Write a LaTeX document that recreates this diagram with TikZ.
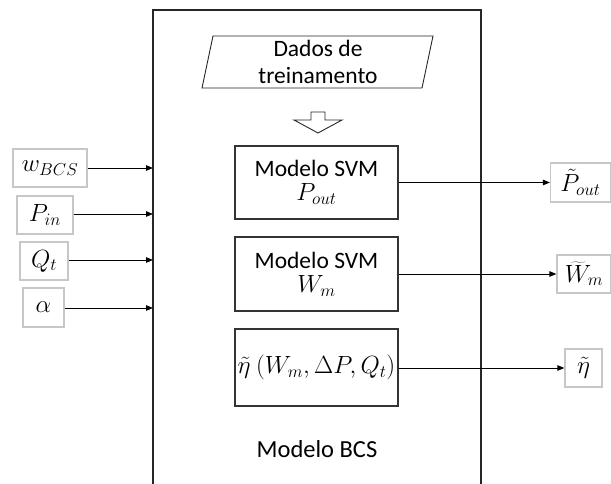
\documentclass[tikz,border=0pt]{standalone}
\usepackage{fontspec}
\setmainfont{Carlito}
\usetikzlibrary{arrows.meta}
\newcommand{\mbig}[2][27]{{\fontsize{#1}{30}\selectfont$#2$}}
\begin{document}
\begin{tikzpicture}[x=1pt,y=-1pt,
  frame/.style={draw=black!85, line width=1.1pt},
  model/.style={draw=black!80, line width=1.1pt, inner sep=0pt, align=center, font=\fontsize{23.5}{27}\selectfont},
  iobox/.style={draw=black!22, line width=1.2pt, inner sep=0pt},
  conn/.style={draw=black, line width=0.9pt, -{Triangle[length=7pt,width=5.5pt]}}]
\useasboundingbox (0,0) rectangle (611,484);
% outer frame (open at the bottom)
\draw[frame] (153,484) -- (153,10) -- (481,10) -- (481,484);
% training data parallelogram
\draw[frame, line width=0.9pt] (213,36) -- (433,36) -- (422,88) -- (202,88) -- cycle;
\node[align=center, font=\fontsize{23.5}{27}\selectfont] (data) at (318,62) {Dados de\\treinamento};
% hollow arrow
\draw[black!85, line width=0.9pt, fill=white] (311,112) -- (325,112) -- (325,120) -- (342,120) -- (318,133) -- (294,120) -- (311,120) -- cycle;
% model boxes
\node[model, minimum width=163pt, minimum height=73pt] (m1) at (316.5,182.5) {Modelo SVM\\[-3pt]\mbig{P_{out}}};
\node[model, minimum width=163pt, minimum height=74pt] (m2) at (316.5,274) {Modelo SVM\\[-3pt]\mbig{W_m}};
\node[model, minimum width=163pt, minimum height=77pt] (m3) at (316.5,367.5) {\mbig[24]{\tilde{\eta}\ (W_m, \Delta P, Q_t)}};
\node[font=\fontsize{24.5}{28}\selectfont] (bcs) at (317,449) {Modelo BCS};
% inputs
\node[iobox, minimum width=74pt, minimum height=38pt] (w) at (50,168) {\mbig[23]{w_{BCS}}};
\node[iobox, minimum width=56pt, minimum height=38pt] (p) at (45,215) {\mbig{P_{in}}};
\node[iobox, minimum width=48pt, minimum height=38pt] (q) at (44,261) {\mbig{Q_t}};
\node[iobox, minimum width=41pt, minimum height=39pt] (a) at (43.5,307.5) {\mbig{\alpha}};
\coordinate (wi) at (153,168);
\coordinate (pi) at (153,214);
\coordinate (qi) at (153,260);
\coordinate (ai) at (153,308);
\draw[conn] (w.east |- wi) -- (wi);
\draw[conn] (p.east |- pi) -- (pi);
\draw[conn] (q.east |- qi) -- (qi);
\draw[conn] (a.east |- ai) -- (ai);
% outputs
\node[iobox, minimum width=60pt, minimum height=39pt] (po) at (580.5,182.5) {\mbig{\tilde{P}_{out}}};
\node[iobox, minimum width=54pt, minimum height=38pt] (wo) at (584,274) {\mbig{\widetilde{W}_m}};
\node[iobox, minimum width=37pt, minimum height=38pt] (eo) at (583.5,368) {\mbig{\tilde{\eta}}};
\draw[conn] (m1.east |- po) -- (po.west);
\draw[conn] (m2.east |- wo) -- (wo.west);
\draw[conn] (m3.east |- eo) -- (eo.west);
\end{tikzpicture}
\end{document}
